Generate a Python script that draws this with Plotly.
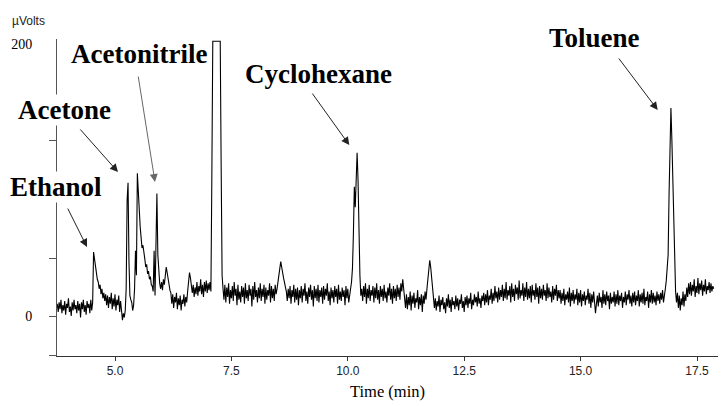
import plotly.graph_objects as go

# Chromatogram sampling: detector read every 0.02 min starting at 3.76 min
time_start_min = 3.76
time_step_min = 0.02

# Detector signal (µV), 20 samples (0.4 min) per row
signal_uv = [
    9, 3, 10, 5, 12, 2, 8, 4, 11, 1, 9, 6, 13, 3, 7, 0, 10, 4, 12, 5,                 # 3.76
    8, 2, 11, 4, 9, -1, 10, 5, 12, 3, 8, 1, 11, 6, 9, 2, 12, 4, 10, 47,               # 4.16 ethanol
    42, 36, 33, 27, 25, 20, 23, 16, 20, 13, 17, 11, 16, 8, 15, 6, 14, 9, 17, 5,       # 4.56
    13, 7, 16, 4, 12, 8, 15, 3, 11, 6, -3, 2, -1, 4, 20, 85, 98, 40, 15, 12,          # 4.96 acetone
    10, 4, 8, 20, 48, 30, 105, 92, 75, 66, 58, 50, 52, 44, 42, 36, 38, 31, 33, 27,    # 5.36
    29, 23, 22, 18, 48, 15, 50, 90, 45, 28, 24, 20, 25, 19, 27, 23, 31, 36, 32, 27,   # 5.76 acetonitrile
    24, 19, 17, 9, 16, 6, 14, 10, 17, 5, 13, 8, 15, 4, 12, 9, 16, 7, 14, 10,          # 6.16
    18, 26, 32, 28, 21, 17, 23, 14, 21, 16, 25, 15, 22, 18, 27, 16, 23, 14, 25, 18,   # 6.56
    26, 17, 24, 19, 25, 18, 102, 202, 202, 202, 202, 202, 202, 202, 202, 202, 110, 30, 20, 12,  # 6.96 off-scale
    23, 10, 21, 14, 24, 9, 19, 13, 22, 11, 25, 15, 20, 8, 23, 12, 18, 10, 22, 14,     # 7.36
    21, 9, 24, 13, 19, 11, 23, 15, 20, 7, 22, 12, 25, 14, 19, 10, 21, 13, 24, 11,     # 7.76
    20, 14, 23, 9, 21, 12, 19, 15, 24, 10, 22, 13, 20, 11, 23, 16, 20, 24, 30, 35,    # 8.16
    40, 37, 32, 28, 25, 21, 18, 11, 20, 13, 22, 9, 19, 14, 23, 10, 20, 12, 21, 8,     # 8.56
    19, 13, 22, 10, 20, 15, 24, 11, 18, 9, 21, 14, 23, 12, 19, 7, 22, 13, 20, 11,     # 8.96
    23, 10, 19, 14, 21, 9, 22, 12, 20, 15, 24, 11, 18, 8, 21, 13, 19, 10, 22, 14,     # 9.36
    20, 9, 23, 12, 18, 11, 21, 14, 19, 8, 22, 13, 20, 10, 18, 20, 25, 35, 60, 95,     # 9.76
    80, 110, 120, 100, 60, 30, 15, 20, 11, 22, 14, 24, 9, 20, 13, 23, 11, 19, 15, 22, # 10.16 cyclohexane
    10, 21, 13, 24, 12, 19, 9, 22, 14, 20, 11, 23, 13, 18, 10, 21, 15, 24, 12, 20,    # 10.56
    9, 22, 13, 20, 11, 23, 14, 21, 12, 24, 18, 27, 20, 12, 6, 16, 5, 14, 8, 18,       # 10.96
    4, 15, 9, 17, 6, 13, 10, 19, 5, 14, 8, 16, 3, 15, 9, 18, 12, 20, 28, 35,          # 11.36
    41, 36, 28, 20, 12, 6, 13, 4, 11, 7, 15, 3, 12, 8, 14, 5, 10, 2, 13, 7,           # 11.76
    16, 6, 12, 3, 14, 8, 11, 5, 15, 7, 13, 4, 12, 9, 16, 6, 11, 3, 14, 8,             # 12.16
    15, 6, 13, 9, 17, 5, 12, 8, 16, 10, 14, 7, 18, 9, 13, 6, 15, 11, 17, 8,           # 12.56
    16, 10, 19, 8, 15, 12, 20, 9, 17, 11, 22, 13, 18, 10, 21, 12, 19, 14, 23, 11,     # 12.96
    20, 13, 25, 12, 19, 15, 22, 10, 24, 14, 20, 11, 23, 16, 21, 12, 26, 13, 19, 15,   # 13.36
    24, 11, 21, 14, 25, 12, 20, 13, 22, 10, 23, 15, 19, 12, 24, 14, 21, 9, 22, 13,    # 13.76
    20, 12, 23, 15, 19, 11, 24, 13, 21, 14, 18, 10, 22, 12, 20, 15, 23, 11, 19, 13,   # 14.16
    19, 9, 17, 11, 20, 8, 16, 12, 18, 10, 21, 7, 17, 11, 19, 9, 16, 12, 20, 8,        # 14.56
    17, 10, 19, 7, 16, 11, 18, 8, 15, 12, 20, 9, 17, 6, 16, 10, 18, 11, 2, 9,         # 14.96
    15, 7, 17, 10, 14, 6, 19, 9, 16, 8, 18, 11, 15, 5, 17, 9, 14, 10, 18, 7,          # 15.36
    16, 9, 19, 8, 15, 11, 17, 6, 14, 10, 18, 8, 16, 12, 19, 9, 15, 7, 17, 10,         # 15.76
    18, 8, 15, 11, 19, 7, 16, 10, 17, 9, 20, 8, 14, 11, 18, 6, 16, 10, 19, 9,         # 16.16
    17, 10, 15, 8, 18, 11, 16, 9, 17, 12, 19, 10, 18, 20, 26, 35, 45, 90, 140, 153,   # 16.56 toluene
    130, 100, 70, 40, 18, 10, 17, 6, 15, 4, 13, 8, 18, 7, 16, 11, 21, 14, 24, 16,     # 16.96
    25, 15, 23, 18, 27, 14, 22, 17, 28, 16, 24, 19, 26, 15, 23, 18, 27, 16, 22, 19,   # 17.36
    25, 17, 24, 18, 22, 20,                                                           # 17.76
]

time_min = [round(time_start_min + k * time_step_min, 4) for k in range(len(signal_uv))]

x_tick_values = [5.0, 7.5, 10.0, 12.5, 15.0, 17.5]
x_tick_labels = ["5.0", "7.5", "10.0", "12.5", "15.0", "17.5"]
y_tick_values = [0, 200]
y_tick_labels = ["0", "200"]
y_minor_ticks = [-29.4, 0, 42.6, 85.3, 128.7]

peak_names = ["Ethanol", "Acetone", "Acetonitrile", "Cyclohexane", "Toluene"]
# label centre (paper coords)
label_pos = [(-0.0015, 0.533), (0.0106, 0.776), (0.1233, 0.9527), (0.3956, 0.8896), (0.8135, 1.004)]
# arrow tip (data coords) and tail offset (px)
arrow_tip = [(4.399, 50.7), (5.064, 105.9), (5.859, 98.5), (10.032, 125.7), (16.656, 151.5)]
arrow_tail = [(-20, -40), (-39, -44), (-17, -107), (-38, -53), (-40, -53)]
arrow_color = ["#222", "#222", "#666", "#222", "#222"]

fig = go.Figure()
fig.add_trace(go.Scatter(
    x=time_min, y=signal_uv, mode="lines",
    line=dict(color="black", width=1.1),
    hoverinfo="skip", showlegend=False,
))

annotations = []
for name, (px, py) in zip(peak_names, label_pos):
    annotations.append(dict(
        text=name, xref="paper", yref="paper", x=px, y=py,
        xanchor="center", yanchor="middle", showarrow=False,
        font=dict(family="Liberation Serif", size=27, color="black", weight="bold"),
        bgcolor="white", borderpad=0,
    ))
for (tx, ty), (ax, ay), col in zip(arrow_tip, arrow_tail, arrow_color):
    annotations.append(dict(
        text="", x=tx, y=ty, xref="x", yref="y", ax=ax, ay=ay,
        showarrow=True, arrowhead=2, arrowsize=1.6, arrowwidth=1,
        arrowcolor=col, standoff=0,
    ))
annotations.append(dict(
    text="µVolts", xref="paper", yref="paper", x=-0.0431, y=1.0568,
    xanchor="center", yanchor="middle", showarrow=False,
    font=dict(family="Liberation Sans", size=12, color="#222"),
))

fig.update_layout(
    width=721, height=406,
    margin=dict(l=57, r=3, t=39, b=50),
    paper_bgcolor="white", plot_bgcolor="white",
    annotations=annotations,
    xaxis=dict(
        range=[3.7543, 17.951], showgrid=False, zeroline=False,
        showline=True, linecolor="#333", linewidth=1,
        ticks="outside", ticklen=4, tickcolor="#333",
        tickvals=x_tick_values, ticktext=x_tick_labels,
        tickfont=dict(family="Liberation Sans", size=12, color="#222"),
        title=dict(text="Time (min)", standoff=8,
                   font=dict(family="Liberation Serif", size=16.5, color="black")),
    ),
    yaxis=dict(
        range=[-29.41, 203.68], showgrid=False, zeroline=False,
        showline=True, linecolor="#555", linewidth=1,
        ticks="", tickvals=y_tick_values, ticktext=y_tick_labels,
        ticklabelstandoff=21,
        tickfont=dict(family="Liberation Serif", size=14, color="black"),
        minor=dict(tickvals=y_minor_ticks, ticks="outside", ticklen=7,
                   tickcolor="#555", showgrid=False),
    ),
)

fig.write_html("out.html")
